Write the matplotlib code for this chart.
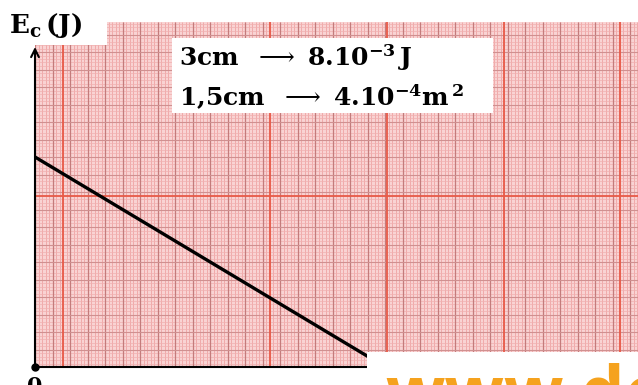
import matplotlib
matplotlib.use("Agg")
import matplotlib.pyplot as plt
from matplotlib.patches import Rectangle
import numpy as np

# scale printed on the sheet
j_per_cm = 8e-3 / 3      # 3cm -> 8.10^-3 J
m2_per_cm = 4e-4 / 1.5   # 1,5cm -> 4.10^-4 m^2

# line (physical units)
surface = [0.0, 2.67e-3]     # m^2
energy = [1.6e-2, 0.0]       # J

plt.rcParams['mathtext.fontset'] = 'dejavuserif'

W, H = 638, 385
def fx(x):
    return x / W
def fy(y):
    return 1 - y / H

fig = plt.figure(figsize=(6.38, 3.85), dpi=100)
fig.patch.set_facecolor('white')

# graph paper area, 1 cm = 35 px
px_cm = 35.0
ax = fig.add_axes([fx(35), fy(367), (W - 35) / W, (367 - 22) / H])
xmax = (W - 35) / px_cm
ymax = (367 - 22) / px_cm
ax.set_xlim(0, xmax)
ax.set_ylim(0, ymax)
ax.set_facecolor('#f9d3d3')

mm_x = np.arange(0, xmax, 0.1)
mm_y = np.arange(0, ymax, 0.1)
ax.vlines(mm_x, 0, ymax, color='#eea0a0', lw=0.55, zorder=0)
ax.hlines(mm_y, 0, xmax, color='#f0b0b0', lw=0.5, zorder=0)
half_x = np.arange(0, xmax, 0.5)
half_y = np.arange(0, ymax, 0.5)
ax.vlines(half_x, 0, ymax, color='#c47b7b', lw=0.9, zorder=0)
ax.hlines(half_y, 0, xmax, color='#d09090', lw=0.8, zorder=0)
# the brighter red lines of the scan
for xv in [0.8, 6.7, 10.05, 13.4, 16.7]:
    ax.axvline(xv, color='#e85a48', lw=1.3, zorder=0)
ax.axhline(4.9, color='#e85a48', lw=1.3, zorder=0)

for s in ['top', 'right', 'left']:
    ax.spines[s].set_visible(False)
ax.spines['bottom'].set_color('black')
ax.spines['bottom'].set_linewidth(1.5)
ax.set_xticks([])
ax.set_yticks([])

# y axis with arrow
ax.annotate('', xy=(0, (367 - 47) / px_cm), xytext=(0, 0),
            arrowprops=dict(arrowstyle='->', lw=1.5, color='black',
                            shrinkA=0, shrinkB=0, mutation_scale=14),
            annotation_clip=False)

x_cm = np.array(surface) / m2_per_cm
y_cm = np.array(energy) / j_per_cm
ax.plot(x_cm, y_cm, color='black', lw=2.4, solid_capstyle='round', zorder=3)
ax.plot(0, 0, 'o', ms=5, color='black', clip_on=False, zorder=4)

# white patches of the scan
fig.add_artist(Rectangle((0, fy(45)), fx(107), 45 / H, transform=fig.transFigure,
                         facecolor='white', edgecolor='none', zorder=5))
fig.add_artist(Rectangle((fx(172), fy(113)), (493 - 172) / W, (113 - 38) / H,
                         transform=fig.transFigure, facecolor='white',
                         edgecolor='none', zorder=5))
fig.add_artist(Rectangle((fx(367), 0), (W - 367) / W, (H - 352) / H,
                         transform=fig.transFigure, facecolor='white',
                         edgecolor='none', zorder=5))

fig.text(fx(9), fy(26), r'$\mathbf{E}_{\mathbf{c}}\,\mathbf{(J)}$', va='center',
         fontsize=19, zorder=6)
fig.text(fx(179), fy(58), r'$\mathbf{3cm}\ \ \longrightarrow\ \mathbf{8.10^{-3}\,J}$',
         va='center', fontsize=18, zorder=6)
fig.text(fx(179), fy(97), r'$\mathbf{1{,}5cm}\ \ \longrightarrow\ \mathbf{4.10^{-4}m^{\,2}}$',
         va='center', fontsize=18, zorder=6)
fig.text(fx(35), fy(376), '0', ha='center', va='top', fontsize=16,
         family='DejaVu Serif', weight='bold', zorder=6)
fig.text(fx(385), fy(416), 'www.devoir', fontsize=50, family='Open Sans',
         weight='bold', color='#f5a21e', va='baseline', zorder=6)

fig.savefig('out.png', dpi=100)
